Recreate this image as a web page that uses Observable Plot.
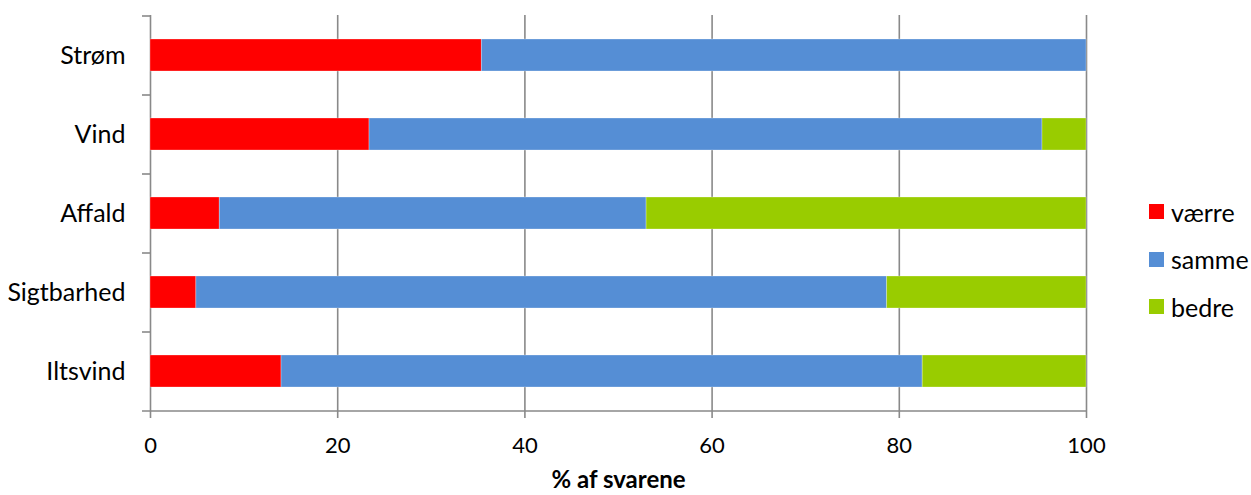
<!DOCTYPE html>
<html>
<head>
<meta charset="utf-8">
<script src="https://cdn.jsdelivr.net/npm/d3@7"></script>
<script src="https://cdn.jsdelivr.net/npm/@observablehq/plot@0.6"></script>
<style>
  html, body { margin: 0; padding: 0; background: #fff; }
  #wrap { position: relative; width: 1251px; height: 495px; font-family: Lato, "Open Sans", sans-serif; }
  #legend { position: absolute; left: 1149px; top: 188px; font-size: 25px; color: #000; }
  .item { display: flex; align-items: center; height: 47.5px; }
  .sw { width: 15px; height: 15px; margin-right: 7px; }
</style>
</head>
<body>
<div id="wrap"></div>
<script>
const categories = ["Strøm", "Vind", "Affald", "Sigtbarhed", "Iltsvind"];
const series = ["værre", "samme", "bedre"];
const colors = ["#FF0000", "#558ED5", "#99CC00"];
const vaerre = [35.4, 23.4, 7.4, 4.9, 14.0];
const samme = [64.6, 71.9, 45.6, 73.8, 68.5];
const bedre = [0, 4.7, 47.0, 21.3, 17.5];
const xTicks = [0, 20, 40, 60, 80, 100];
const xTitle = "% af svarene";

const values = [vaerre, samme, bedre];
const data = [];
series.forEach((s, si) => categories.forEach((c, ci) => data.push({category: c, series: s, value: values[si][ci]})));

const marginTop = 15, marginBottom = 85, H = 495;
const step = (H - marginTop - marginBottom) / categories.length;
const grey = "#898989";

const chart = Plot.plot({
  width: 1251,
  height: H,
  marginLeft: 150,
  marginRight: 165,
  marginTop,
  marginBottom,
  style: {fontFamily: "Lato, 'Open Sans', sans-serif", fontSize: "21px", color: "#000", background: "#fff"},
  x: {domain: [0, 100]},
  y: {domain: categories, paddingInner: 0.6, paddingOuter: 0.3},
  color: {domain: series, range: colors},
  marks: [
    Plot.ruleX(xTicks, {stroke: grey, strokeWidth: 1.6}),
    Plot.barX(data, {y: "category", x: "value", fill: "series", stroke: "#fff", strokeOpacity: 0.35, strokeWidth: 0.8, order: series}),
    Plot.ruleY(categories, {y: d => d, dy: -step / 2, x1: -0.855, x2: 0, stroke: grey, strokeWidth: 1.6}),
    Plot.ruleY([categories[categories.length - 1]], {y: d => d, dy: step / 2, x1: -0.855, x2: 100, stroke: grey, strokeWidth: 1.6}),
    Plot.axisX({ticks: xTicks, tickSize: 8, tickPadding: 19, stroke: grey, strokeWidth: 1.6, fill: "#000", fontSize: 22, label: null}),
    Plot.axisY({tickSize: 0, tickPadding: 25, fill: "#000", fontSize: 25, label: null}),
    Plot.text([xTitle], {frameAnchor: "bottom", dy: 60, lineAnchor: "top", fontWeight: "bold", fontSize: 24, fill: "#000"})
  ]
});

const wrap = document.getElementById("wrap");
wrap.appendChild(chart);
const legend = document.createElement("div");
legend.id = "legend";
series.forEach((s, i) => {
  const it = document.createElement("div");
  it.className = "item";
  const sw = document.createElement("span");
  sw.className = "sw";
  sw.style.background = colors[i];
  const t = document.createElement("span");
  t.textContent = s;
  it.appendChild(sw); it.appendChild(t);
  legend.appendChild(it);
});
wrap.appendChild(legend);
</script>
</body>
</html>
